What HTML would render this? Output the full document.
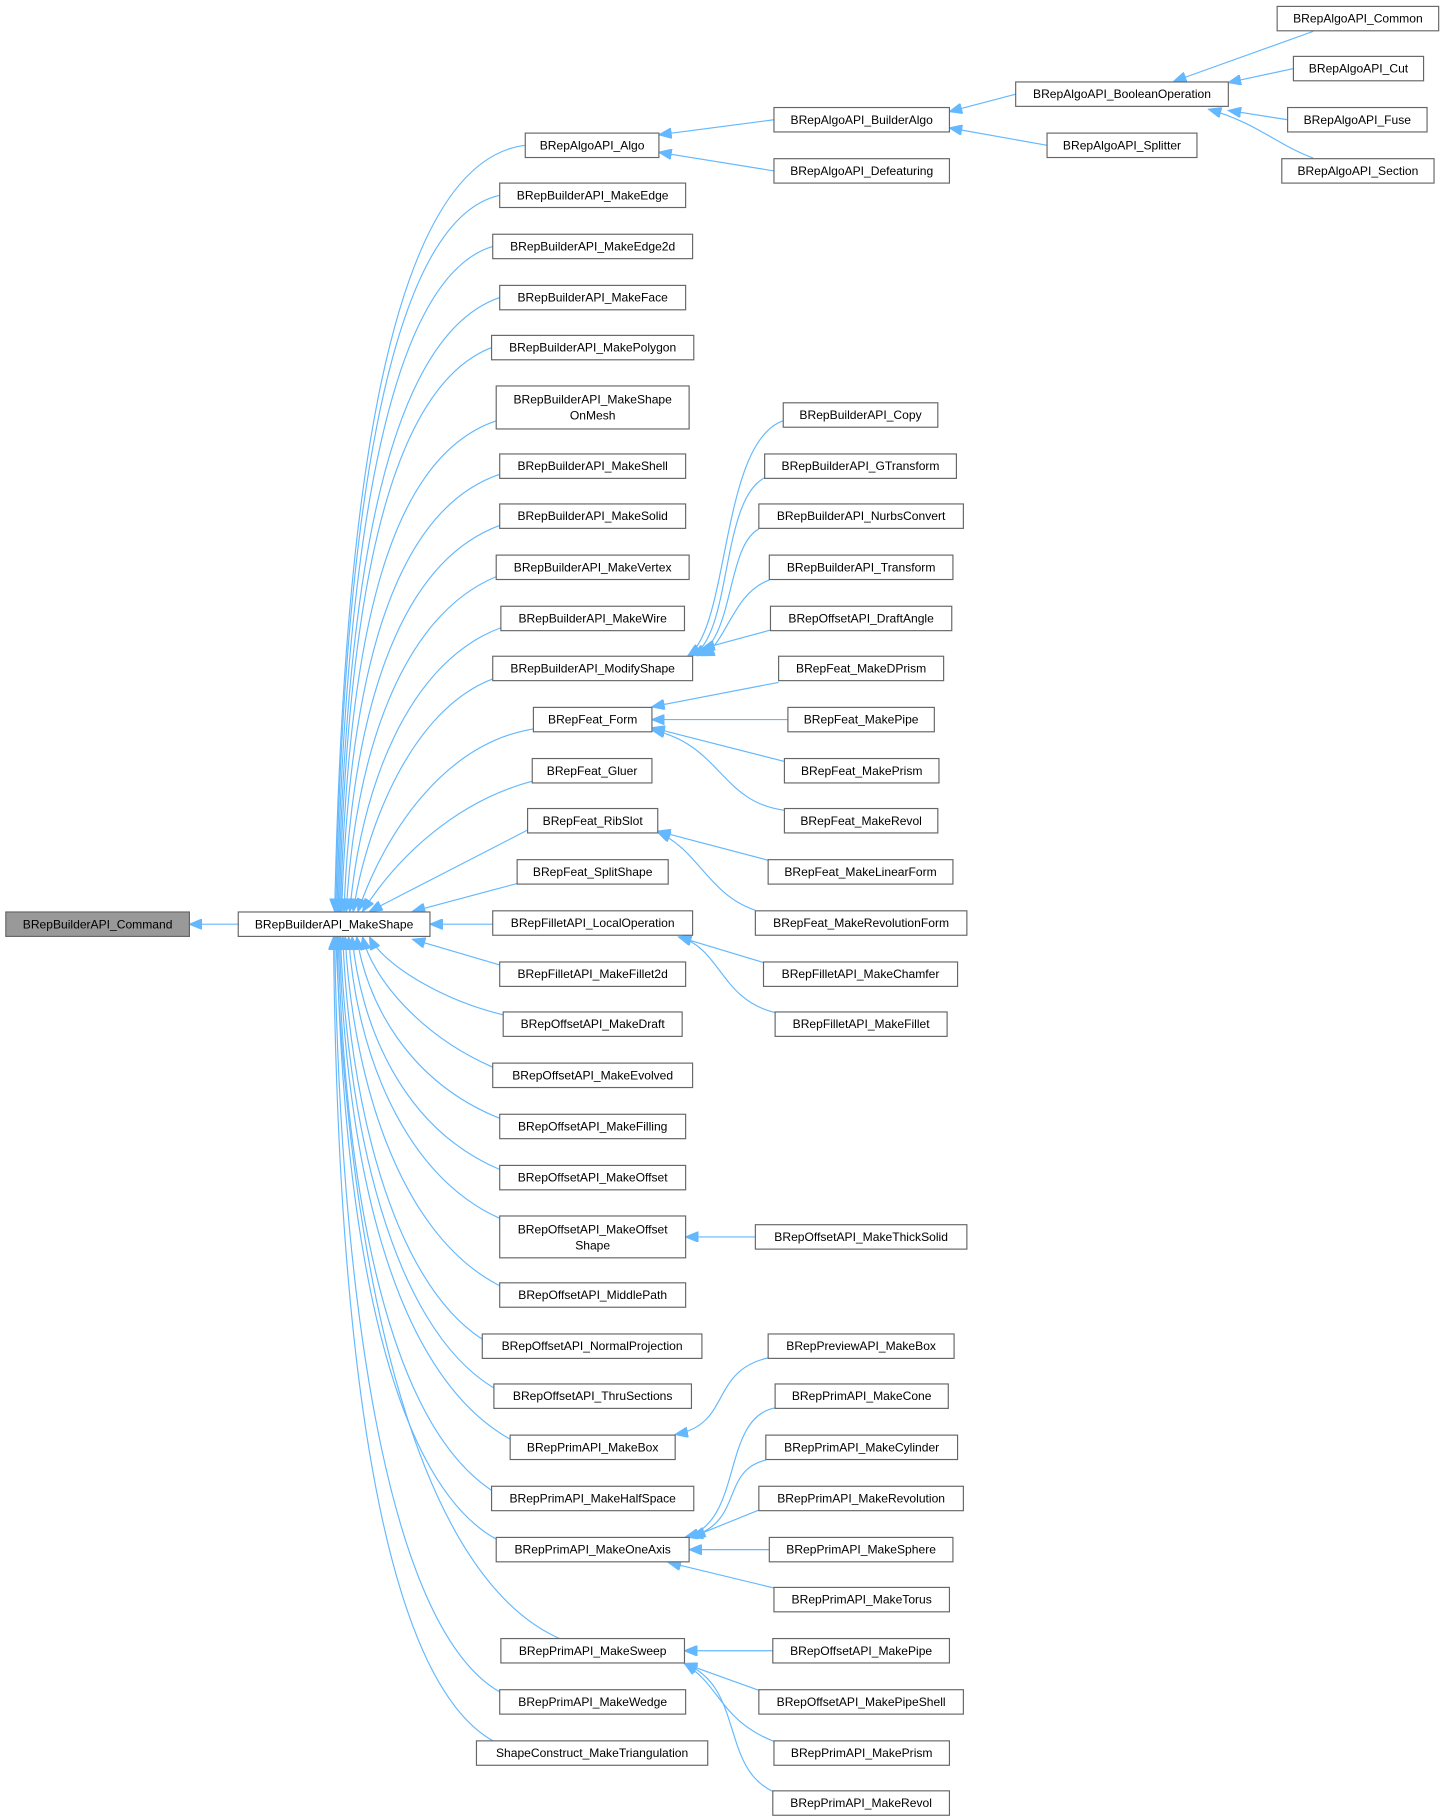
<!DOCTYPE html>
<html><head><meta charset="utf-8"><style>
html,body{margin:0;padding:0;background:#fff}
svg{display:block}
text{font-family:"Liberation Sans",sans-serif;font-size:10.4px;fill:#000;text-anchor:middle}
rect{fill:#fff;stroke:#666;stroke-width:1}
path{fill:none;stroke:#63b8ff;stroke-width:1}
</style></head><body>
<svg width="1441" height="1817" viewBox="0 0 1240 1563" preserveAspectRatio="none">
<defs><marker id="a" markerUnits="userSpaceOnUse" markerWidth="12" markerHeight="9" refX="11" refY="4.5" orient="auto"><path d="M0,0 L11,4.5 L0,9 z" style="fill:#63b8ff;stroke:#63b8ff"/></marker></defs>
<g marker-end="url(#a)">
<path d="M205,795 L163,795"/>
<path d="M452,125 C330,140 295,450 288,784"/>
<path d="M430,168 C330,190 295,470 289,784"/>
<path d="M424,212 C330,240 296,490 290,784"/>
<path d="M430,256 C330,290 297,510 291,784"/>
<path d="M423,299 C330,335 298,530 292,784"/>
<path d="M427,362 C330,395 299,560 293,784"/>
<path d="M430,408 C335,440 300,590 294,784"/>
<path d="M430,452 C340,485 302,620 296,784"/>
<path d="M427,496 C345,530 305,650 298,784"/>
<path d="M431,540 C350,570 310,680 301,784"/>
<path d="M424,584 C355,610 315,710 304,784"/>
<path d="M459,627 C380,640 330,720 308,784"/>
<path d="M458,672 C390,690 340,740 312,784"/>
<path d="M454,714 L318,784"/>
<path d="M445,760 L355,784"/>
<path d="M424,795 L370,795"/>
<path d="M430,830 L355,808"/>
<path d="M433,873 C380,860 330,830 318,806"/>
<path d="M424,918 C360,890 320,840 312,806"/>
<path d="M430,962 C350,930 315,860 307,806"/>
<path d="M430,1006 C345,970 310,880 303,806"/>
<path d="M430,1048 C345,1010 306,900 300,806"/>
<path d="M430,1106 C340,1060 303,920 297,806"/>
<path d="M415,1152 C335,1100 300,940 295,806"/>
<path d="M425,1194 C335,1140 298,960 293,806"/>
<path d="M439,1238 C335,1180 297,990 292,806"/>
<path d="M423,1282 C330,1220 296,1010 291,806"/>
<path d="M427,1324 C330,1270 294,1040 290,806"/>
<path d="M485,1411 C360,1360 300,1100 289,806"/>
<path d="M431,1456 C330,1400 292,1100 288,806"/>
<path d="M425,1498 C320,1440 290,1120 287,806"/>
<path d="M666,103 L567,116"/>
<path d="M666,147 L567,131"/>
<path d="M874,81 L817,96"/>
<path d="M901,125 L817,110"/>
<path d="M1130,27 L1010,70"/>
<path d="M1113,59 L1057,71"/>
<path d="M1108,103 L1057,95"/>
<path d="M1130,136 C1100,125 1080,105 1040,94"/>
<path d="M674,362 C620,380 628,540 592,564"/>
<path d="M658,411 C620,430 630,545 596,564"/>
<path d="M653,455 C625,470 632,548 600,564"/>
<path d="M662,499 C630,510 625,555 604,564"/>
<path d="M663,542 L604,558"/>
<path d="M670,587 L561,608"/>
<path d="M678,619 L561,619"/>
<path d="M675,655 L561,626"/>
<path d="M675,697 C620,690 620,640 561,628"/>
<path d="M661,740 L566,715"/>
<path d="M650,783 C610,770 600,730 566,716"/>
<path d="M657,828 L584,806"/>
<path d="M667,871 C620,860 620,815 584,806"/>
<path d="M650,1064 L590,1064"/>
<path d="M661,1168 C610,1180 630,1225 581,1234"/>
<path d="M667,1211 C620,1220 640,1310 590,1322"/>
<path d="M659,1256 C620,1265 640,1310 594,1322"/>
<path d="M653,1299 L596,1322"/>
<path d="M662,1333 L593,1333"/>
<path d="M666,1366 L575,1344"/>
<path d="M665,1420 L589,1420"/>
<path d="M653,1454 L589,1431"/>
<path d="M666,1498 C620,1480 620,1450 589,1431"/>
<path d="M665,1541 C620,1520 640,1450 589,1431"/>
</g>
<rect x="5" y="784.5" width="158" height="21" style="fill:#999"/><text x="84" y="798.5">BRepBuilderAPI_Command</text>
<rect x="205" y="784.5" width="165" height="21"/><text x="287.5" y="798.5">BRepBuilderAPI_MakeShape</text>
<rect x="452" y="114.5" width="115" height="21"/><text x="509.5" y="128.5">BRepAlgoAPI_Algo</text>
<rect x="430" y="157.5" width="160" height="21"/><text x="510" y="171.5">BRepBuilderAPI_MakeEdge</text>
<rect x="424" y="201.5" width="172" height="21"/><text x="510" y="215.5">BRepBuilderAPI_MakeEdge2d</text>
<rect x="430" y="245.5" width="160" height="21"/><text x="510" y="259.5">BRepBuilderAPI_MakeFace</text>
<rect x="423" y="288.5" width="174" height="21"/><text x="510" y="302.5">BRepBuilderAPI_MakePolygon</text>
<rect x="427" y="332" width="166" height="37"/><text x="510" y="347">BRepBuilderAPI_MakeShape</text><text x="510" y="361">OnMesh</text>
<rect x="430" y="390.5" width="160" height="21"/><text x="510" y="404.5">BRepBuilderAPI_MakeShell</text>
<rect x="430" y="433.5" width="160" height="21"/><text x="510" y="447.5">BRepBuilderAPI_MakeSolid</text>
<rect x="427" y="477.5" width="166" height="21"/><text x="510" y="491.5">BRepBuilderAPI_MakeVertex</text>
<rect x="431" y="521.5" width="158" height="21"/><text x="510" y="535.5">BRepBuilderAPI_MakeWire</text>
<rect x="424" y="564.5" width="172" height="21"/><text x="510" y="578.5">BRepBuilderAPI_ModifyShape</text>
<rect x="459" y="608.5" width="102" height="21"/><text x="510" y="622.5">BRepFeat_Form</text>
<rect x="458" y="652.5" width="103" height="21"/><text x="509.5" y="666.5">BRepFeat_Gluer</text>
<rect x="454" y="695.5" width="112" height="21"/><text x="510" y="709.5">BRepFeat_RibSlot</text>
<rect x="445" y="739.5" width="130" height="21"/><text x="510" y="753.5">BRepFeat_SplitShape</text>
<rect x="424" y="783.5" width="172" height="21"/><text x="510" y="797.5">BRepFilletAPI_LocalOperation</text>
<rect x="430" y="827.5" width="160" height="21"/><text x="510" y="841.5">BRepFilletAPI_MakeFillet2d</text>
<rect x="433" y="870.5" width="154" height="21"/><text x="510" y="884.5">BRepOffsetAPI_MakeDraft</text>
<rect x="424" y="914.5" width="172" height="21"/><text x="510" y="928.5">BRepOffsetAPI_MakeEvolved</text>
<rect x="430" y="958.5" width="160" height="21"/><text x="510" y="972.5">BRepOffsetAPI_MakeFilling</text>
<rect x="430" y="1002.5" width="160" height="21"/><text x="510" y="1016.5">BRepOffsetAPI_MakeOffset</text>
<rect x="430" y="1046" width="160" height="36"/><text x="510" y="1061">BRepOffsetAPI_MakeOffset</text><text x="510" y="1075">Shape</text>
<rect x="430" y="1103.5" width="160" height="21"/><text x="510" y="1117.5">BRepOffsetAPI_MiddlePath</text>
<rect x="415" y="1147.5" width="189" height="21"/><text x="509.5" y="1161.5">BRepOffsetAPI_NormalProjection</text>
<rect x="425" y="1190.5" width="170" height="21"/><text x="510" y="1204.5">BRepOffsetAPI_ThruSections</text>
<rect x="439" y="1234.5" width="142" height="21"/><text x="510" y="1248.5">BRepPrimAPI_MakeBox</text>
<rect x="423" y="1278.5" width="174" height="21"/><text x="510" y="1292.5">BRepPrimAPI_MakeHalfSpace</text>
<rect x="427" y="1322.5" width="166" height="21"/><text x="510" y="1336.5">BRepPrimAPI_MakeOneAxis</text>
<rect x="431" y="1409.5" width="158" height="21"/><text x="510" y="1423.5">BRepPrimAPI_MakeSweep</text>
<rect x="430" y="1453.5" width="160" height="21"/><text x="510" y="1467.5">BRepPrimAPI_MakeWedge</text>
<rect x="410" y="1497.5" width="199" height="21"/><text x="509.5" y="1511.5">ShapeConstruct_MakeTriangulation</text>
<rect x="666" y="92.5" width="151" height="21"/><text x="741.5" y="106.5">BRepAlgoAPI_BuilderAlgo</text>
<rect x="666" y="136.5" width="151" height="21"/><text x="741.5" y="150.5">BRepAlgoAPI_Defeaturing</text>
<rect x="874" y="70.5" width="183" height="21"/><text x="965.5" y="84.5">BRepAlgoAPI_BooleanOperation</text>
<rect x="901" y="114.5" width="129" height="21"/><text x="965.5" y="128.5">BRepAlgoAPI_Splitter</text>
<rect x="1099" y="5.5" width="139" height="21"/><text x="1168.5" y="19.5">BRepAlgoAPI_Common</text>
<rect x="1113" y="48.5" width="112" height="21"/><text x="1169" y="62.5">BRepAlgoAPI_Cut</text>
<rect x="1108" y="92.5" width="120" height="21"/><text x="1168" y="106.5">BRepAlgoAPI_Fuse</text>
<rect x="1103" y="136.5" width="131" height="21"/><text x="1168.5" y="150.5">BRepAlgoAPI_Section</text>
<rect x="674" y="346.5" width="133" height="21"/><text x="740.5" y="360.5">BRepBuilderAPI_Copy</text>
<rect x="658" y="390.5" width="165" height="21"/><text x="740.5" y="404.5">BRepBuilderAPI_GTransform</text>
<rect x="653" y="433.5" width="176" height="21"/><text x="741" y="447.5">BRepBuilderAPI_NurbsConvert</text>
<rect x="662" y="477.5" width="158" height="21"/><text x="741" y="491.5">BRepBuilderAPI_Transform</text>
<rect x="663" y="521.5" width="156" height="21"/><text x="741" y="535.5">BRepOffsetAPI_DraftAngle</text>
<rect x="670" y="564.5" width="142" height="21"/><text x="741" y="578.5">BRepFeat_MakeDPrism</text>
<rect x="678" y="608.5" width="126" height="21"/><text x="741" y="622.5">BRepFeat_MakePipe</text>
<rect x="675" y="652.5" width="133" height="21"/><text x="741.5" y="666.5">BRepFeat_MakePrism</text>
<rect x="675" y="695.5" width="132" height="21"/><text x="741" y="709.5">BRepFeat_MakeRevol</text>
<rect x="661" y="739.5" width="159" height="21"/><text x="740.5" y="753.5">BRepFeat_MakeLinearForm</text>
<rect x="650" y="783.5" width="182" height="21"/><text x="741" y="797.5">BRepFeat_MakeRevolutionForm</text>
<rect x="657" y="827.5" width="167" height="21"/><text x="740.5" y="841.5">BRepFilletAPI_MakeChamfer</text>
<rect x="667" y="870.5" width="148" height="21"/><text x="741" y="884.5">BRepFilletAPI_MakeFillet</text>
<rect x="650" y="1053.5" width="182" height="21"/><text x="741" y="1067.5">BRepOffsetAPI_MakeThickSolid</text>
<rect x="661" y="1147.5" width="160" height="21"/><text x="741" y="1161.5">BRepPreviewAPI_MakeBox</text>
<rect x="667" y="1190.5" width="149" height="21"/><text x="741.5" y="1204.5">BRepPrimAPI_MakeCone</text>
<rect x="659" y="1234.5" width="165" height="21"/><text x="741.5" y="1248.5">BRepPrimAPI_MakeCylinder</text>
<rect x="653" y="1278.5" width="176" height="21"/><text x="741" y="1292.5">BRepPrimAPI_MakeRevolution</text>
<rect x="662" y="1322.5" width="158" height="21"/><text x="741" y="1336.5">BRepPrimAPI_MakeSphere</text>
<rect x="666" y="1365.5" width="151" height="21"/><text x="741.5" y="1379.5">BRepPrimAPI_MakeTorus</text>
<rect x="665" y="1409.5" width="152" height="21"/><text x="741" y="1423.5">BRepOffsetAPI_MakePipe</text>
<rect x="653" y="1453.5" width="176" height="21"/><text x="741" y="1467.5">BRepOffsetAPI_MakePipeShell</text>
<rect x="666" y="1497.5" width="151" height="21"/><text x="741.5" y="1511.5">BRepPrimAPI_MakePrism</text>
<rect x="665" y="1540.5" width="152" height="21"/><text x="741" y="1554.5">BRepPrimAPI_MakeRevol</text>
</svg>
</body></html>
